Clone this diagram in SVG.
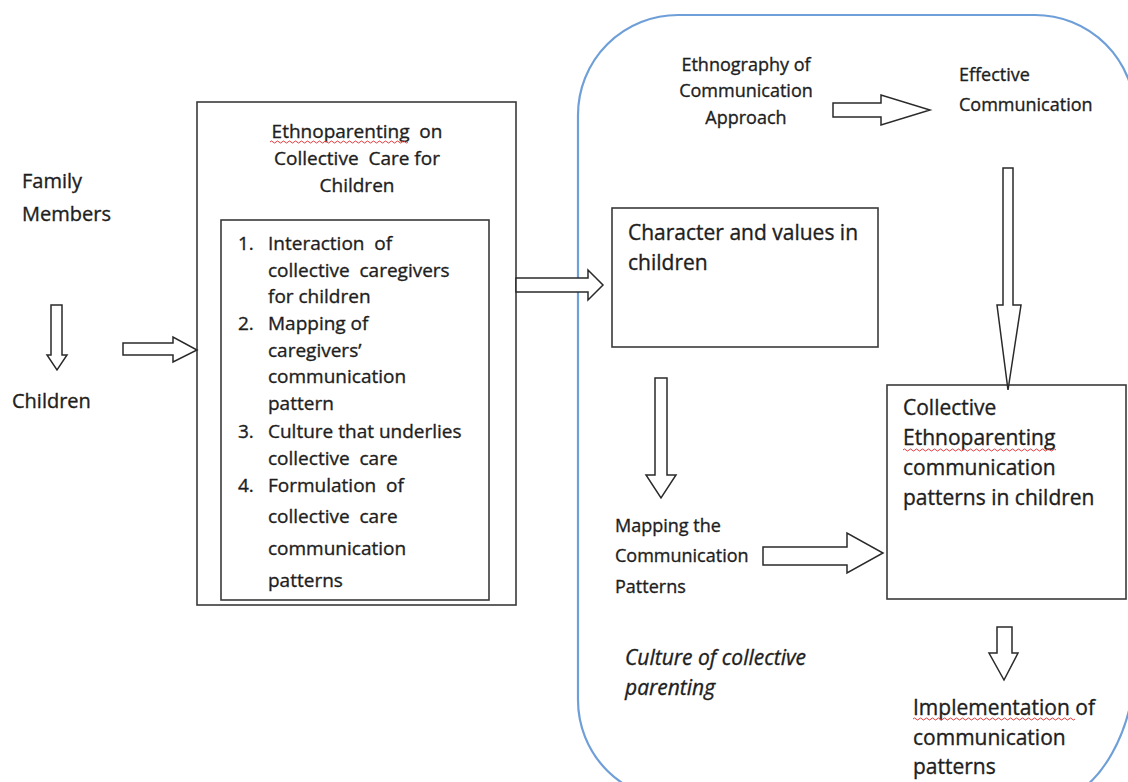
<svg xmlns="http://www.w3.org/2000/svg" width="1128" height="782" viewBox="0 0 1128 782">
<style>
.t{font-family:"Open Sans","Liberation Sans",sans-serif;fill:#1e1e1e;stroke:#1e1e1e;stroke-width:0.35;white-space:pre}
.s19{font-size:19px}
.s18{font-size:18px}
.s20{font-size:20px}
.s21{font-size:21px}
.it{font-style:italic}
.box{fill:none;stroke:#3a3a3a;stroke-width:1.6}
.arr{fill:#fff;stroke:#2a2a2a;stroke-width:1.5;stroke-linejoin:miter}
.sq{fill:none;stroke:#e03c3c;stroke-width:1}
.mid{text-anchor:middle}
</style>
<rect width="1128" height="782" fill="#fff"/>
<g id="region">
<path d="M678,15 H1035 A100,100 0 0 1 1135,115 V660 C1135,730 1100,790 1060,800 H678 A100,100 0 0 1 578,700 V115 A100,100 0 0 1 678,15 Z" fill="none" stroke="#6f9fd8" stroke-width="2.2"/>
<text class="t s21 it" x="625" y="665">Culture of collective</text>
<text class="t s21 it" x="625" y="695">parenting</text>
</g>
<g id="family">
<text class="t s20" x="22" y="188">Family</text>
<text class="t s20" x="22" y="221">Members</text>
</g>
<g id="children">
<text class="t s20" x="12" y="408">Children</text>
</g>
<g id="ethnoparenting">
<rect class="box" x="197" y="102" width="319" height="503"/>
<text class="t s19 mid" x="357" y="138">Ethnoparenting  on</text>
<text class="t s19 mid" x="357" y="165">Collective  Care for</text>
<text class="t s19 mid" x="357" y="192">Children</text>
<path class="sq" d="M270,142 q1.5,-2 3,0 t3,0 t3,0 t3,0 t3,0 t3,0 t3,0 t3,0 t3,0 t3,0 t3,0 t3,0 t3,0 t3,0 t3,0 t3,0 t3,0 t3,0 t3,0 t3,0 t3,0 t3,0 t3,0 t3,0 t3,0 t3,0 t3,0 t3,0 t3,0 t3,0 t3,0 t3,0 t3,0 t3,0 t3,0 t3,0 t3,0 t3,0 t3,0 t3,0 t3,0 t3,0 t3,0 t3,0 t3,0 t3,0"/>
</g>
<g id="list">
<rect class="box" x="221" y="220" width="268" height="380"/>
<text class="t s19" x="238" y="250">1.</text>
<text class="t s19" x="268" y="250">Interaction  of</text>
<text class="t s19" x="268" y="277">collective  caregivers</text>
<text class="t s19" x="268" y="303">for children</text>
<text class="t s19" x="238" y="330">2.</text>
<text class="t s19" x="268" y="330">Mapping of</text>
<text class="t s19" x="268" y="357">caregivers’</text>
<text class="t s19" x="268" y="383">communication</text>
<text class="t s19" x="268" y="410">pattern</text>
<text class="t s19" x="238" y="438">3.</text>
<text class="t s19" x="268" y="438">Culture that underlies</text>
<text class="t s19" x="268" y="465">collective  care</text>
<text class="t s19" x="238" y="492">4.</text>
<text class="t s19" x="268" y="492">Formulation  of</text>
<text class="t s19" x="268" y="523">collective  care</text>
<text class="t s19" x="268" y="555">communication</text>
<text class="t s19" x="268" y="587">patterns</text>
</g>
<g id="character">
<rect class="box" x="612" y="208" width="266" height="139"/>
<text class="t s21" x="628" y="240">Character and values in</text>
<text class="t s21" x="628" y="270">children</text>
</g>
<g id="ethnography">
<text class="t s18 mid" x="746" y="71">Ethnography of</text>
<text class="t s18 mid" x="746" y="97">Communication</text>
<text class="t s18 mid" x="746" y="124">Approach</text>
</g>
<g id="effective">
<text class="t s18" x="959" y="81">Effective</text>
<text class="t s18" x="959" y="111">Communication</text>
</g>
<g id="mapping">
<text class="t s18" x="615" y="532">Mapping the</text>
<text class="t s18" x="615" y="562">Communication</text>
<text class="t s18" x="615" y="593">Patterns</text>
</g>
<g id="collective">
<rect class="box" x="887" y="385" width="239" height="214"/>
<text class="t s21" x="903" y="415">Collective</text>
<text class="t s21" x="903" y="445">Ethnoparenting</text>
<text class="t s21" x="903" y="475">communication</text>
<text class="t s21" x="903" y="505">patterns in children</text>
<path class="sq" d="M903,450 q1.5,-2 3,0 t3,0 t3,0 t3,0 t3,0 t3,0 t3,0 t3,0 t3,0 t3,0 t3,0 t3,0 t3,0 t3,0 t3,0 t3,0 t3,0 t3,0 t3,0 t3,0 t3,0 t3,0 t3,0 t3,0 t3,0 t3,0 t3,0 t3,0 t3,0 t3,0 t3,0 t3,0 t3,0 t3,0 t3,0 t3,0 t3,0 t3,0 t3,0 t3,0 t3,0 t3,0 t3,0 t3,0 t3,0 t3,0 t3,0 t3,0 t3,0 t3,0 t3,0"/>
</g>
<g id="implementation">
<text class="t s21" x="913" y="715">Implementation of</text>
<text class="t s21" x="913" y="745">communication</text>
<text class="t s21" x="913" y="774">patterns</text>
<path class="sq" d="M913,719 q1.5,-2 3,0 t3,0 t3,0 t3,0 t3,0 t3,0 t3,0 t3,0 t3,0 t3,0 t3,0 t3,0 t3,0 t3,0 t3,0 t3,0 t3,0 t3,0 t3,0 t3,0 t3,0 t3,0 t3,0 t3,0 t3,0 t3,0 t3,0 t3,0 t3,0 t3,0 t3,0 t3,0 t3,0 t3,0 t3,0 t3,0 t3,0 t3,0 t3,0 t3,0 t3,0 t3,0 t3,0 t3,0 t3,0 t3,0 t3,0 t3,0 t3,0 t3,0 t3,0 t3,0 t3,0 t3,0"/>
</g>
<g id="connectors">
<polygon class="arr" points="51,305 62,305 62,355 67,355 57,370 47,355 51,355"/>
<polygon class="arr" points="123,343 173,343 173,337 197,350 173,362 173,355 123,355"/>
<polygon class="arr" points="516,278 588,278 588,270 603,285 588,300 588,292 516,292"/>
<polygon class="arr" points="833,103 881,103 881,95 930,110 881,125 881,117 833,117"/>
<polygon class="arr" points="1003,168 1013,168 1013,305 1021,305 1008,390 997,305 1003,305"/>
<polygon class="arr" points="655,378 667,378 667,475 676,475 661,498 646,475 655,475"/>
<polygon class="arr" points="763,547 847,547 847,533 883,553 847,573 847,565 763,565"/>
<polygon class="arr" points="997,627 1012,627 1012,653 1018,653 1004,680 989,653 997,653"/>
</g>
</svg>
